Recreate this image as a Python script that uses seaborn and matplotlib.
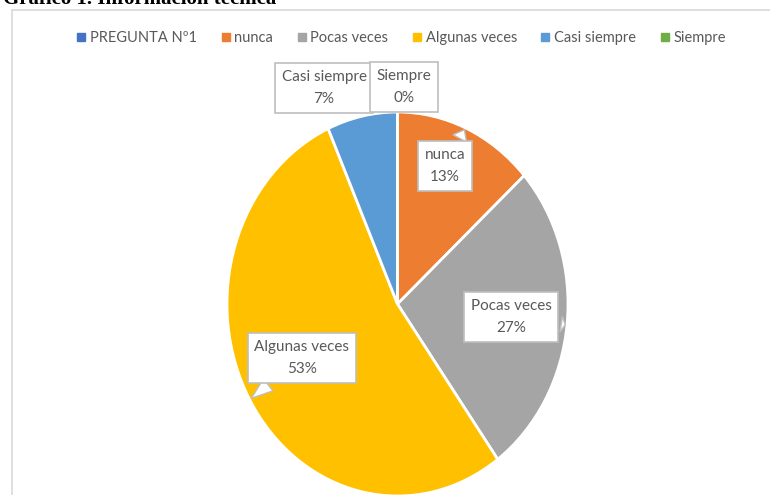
import matplotlib
matplotlib.use("Agg")
import matplotlib.pyplot as plt
import seaborn as sns
from matplotlib.lines import Line2D

categories = ["PREGUNTA Nº1", "nunca", "Pocas veces", "Algunas veces", "Casi siempre", "Siempre"]
counts = [0, 2, 4, 8, 1, 0]
percent_labels = ["", "13%", "27%", "53%", "7%", "0%"]
colors = ["#4472C4", "#ED7D31", "#A5A5A5", "#FFC000", "#5B9BD5", "#70AD47"]

W, H = 770, 495


def fig_xy(x, y):
    """pixel position (from top-left) -> figure fraction"""
    return x / W, 1 - y / H


sns.set_theme(style="white")
plt.rcParams["font.family"] = ["Lato", "DejaVu Sans"]

fig = plt.figure(figsize=(W / 100, H / 100), dpi=100)
fig.patch.set_facecolor("white")

# pie axes, stretched so the pie is an ellipse like the original
ax = fig.add_axes([227 / W, -1 / H, 341 / W, 384 / H])
wedges, _ = ax.pie(
    counts,
    colors=colors,
    startangle=90,
    counterclock=False,
    wedgeprops=dict(edgecolor="white", linewidth=2),
)
ax.set_aspect("auto")
ax.set_xlim(-1, 1)
ax.set_ylim(-1, 1)
ax.axis("off")

# callout labels: box centre (px) and pointer target (data coords)
label_pos = {
    "nunca": ((445, 166), (0.40, 0.92)),
    "Pocas veces": ((511, 317), (1.0, -0.11)),
    "Algunas veces": ((302, 358), (-0.87, -0.50)),
    "Casi siempre": ((324, 88), None),
    "Siempre": ((404, 87), None),
}
for cat, pct in zip(categories, percent_labels):
    if cat not in label_pos:
        continue
    (bx, by), target = label_pos[cat]
    text = f"{cat}\n{pct}"
    box = dict(boxstyle="square,pad=0.42", fc="white", ec="#BFBFBF", lw=1.2)
    if target is None:
        fig.text(*fig_xy(bx, by), text, ha="center", va="center", fontsize=11,
                 color="#595959", linespacing=1.75, bbox=box)
    else:
        ax.annotate(
            text, xy=target, xycoords="data",
            xytext=fig_xy(bx, by), textcoords="figure fraction",
            ha="center", va="center", fontsize=11, color="#595959",
            linespacing=1.75, bbox=box,
            arrowprops=dict(arrowstyle="wedge,tail_width=1.0,shrink_factor=0.5",
                            fc="white", ec="#BFBFBF", lw=1.0),
        )

# legend across the top
handles = [Line2D([], [], marker="s", color=c, linestyle="", markersize=5.5) for c in colors]
fig.legend(handles, categories, loc="center", bbox_to_anchor=fig_xy(400, 38),
           ncol=6, frameon=False, fontsize=10.5, labelcolor="#595959",
           handletextpad=0.1, columnspacing=1.45, handlelength=1.0)

# chart frame (left + top border)
fig.add_artist(Line2D([12 / W, 12 / W], [0, 1 - 10 / H], transform=fig.transFigure,
                      color="#D9D9D9", lw=1.2))
fig.add_artist(Line2D([12 / W, 1], [1 - 10 / H, 1 - 10 / H], transform=fig.transFigure,
                      color="#D9D9D9", lw=1.2))

# title, mostly cut off by the top edge as in the source
fig.text(*fig_xy(3, 4), "Gráfico 1. Información técnica", ha="left", va="baseline",
         fontsize=15, fontweight="bold", family="Liberation Serif", color="black")

fig.savefig("out.png", dpi=100)
